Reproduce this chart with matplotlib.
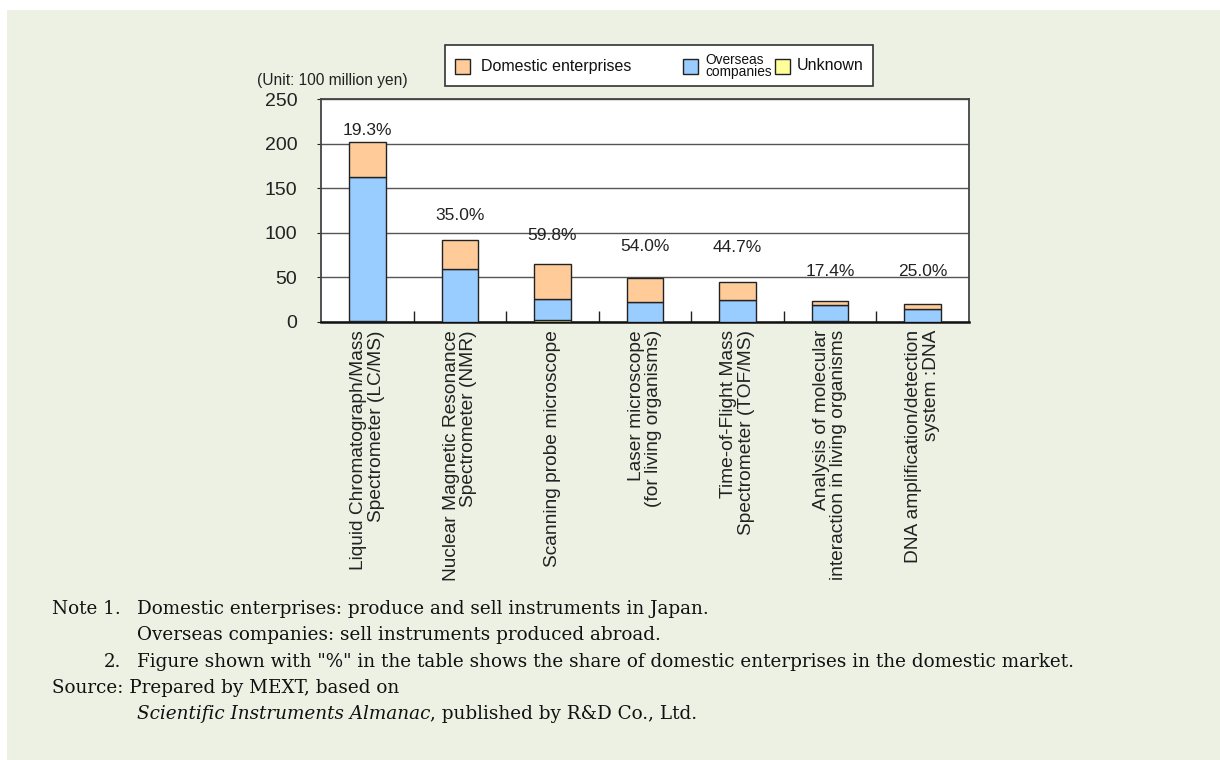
import numpy as np
import matplotlib
matplotlib.use("Agg")
from matplotlib import pyplot as plt
from matplotlib.patches import Rectangle

categories = [
    "Liquid Chromatograph/Mass\nSpectrometer (LC/MS)",
    "Nuclear Magnetic Resonance\nSpectrometer (NMR)",
    "Scanning probe microscope",
    "Laser microscope\n(for living organisms)",
    "Time-of-Flight Mass\nSpectrometer (TOF/MS)",
    "Analysis of molecular\ninteraction in living organisms",
    "DNA amplification/detection\nsystem :DNA",
]
# unit: 100 million yen
unknown = [1.0, 0.0, 2.5, 0.0, 0.0, 1.0, 0.0]
overseas = [162.0, 59.5, 23.8, 22.7, 24.9, 18.0, 15.0]
domestic = [39.0, 32.0, 39.2, 26.7, 20.1, 4.0, 5.0]
share_labels = ["19.3%", "35.0%", "59.8%", "54.0%", "44.7%", "17.4%", "25.0%"]
label_y = [215, 119, 97, 85, 83, 57, 57]
legend_names = ["Domestic enterprises", "Overseas\ncompanies", "Unknown"]

bg = "#ecf1e4"
c_dom = "#ffcc99"
c_ovs = "#99ccff"
c_unk = "#ffff99"

W, H = 1220, 760
fig = plt.figure(figsize=(12.2, 7.6), dpi=100)
fig.patch.set_facecolor("white")
fig.patches.append(Rectangle((7 / W, 0), 1, 1 - 10 / H, transform=fig.transFigure,
                             facecolor=bg, edgecolor="none", zorder=-10))

ax = fig.add_axes([321 / W, 1 - 322 / H, (969 - 321) / W, (322 - 99) / H])
ax.set_facecolor("white")

x = np.arange(len(categories))
unknown = np.array(unknown)
overseas = np.array(overseas)
domestic = np.array(domestic)
w = 0.395
ax.bar(x, unknown, w, color=c_unk, edgecolor="#222222", linewidth=1.0, zorder=3)
ax.bar(x, overseas, w, bottom=unknown, color=c_ovs, edgecolor="#222222", linewidth=1.0, zorder=3)
ax.bar(x, domestic, w, bottom=unknown + overseas, color=c_dom, edgecolor="#222222",
       linewidth=1.0, zorder=3)

for xi, s, yl in zip(x, share_labels, label_y):
    ax.text(xi, yl, s, ha="center", va="center", fontsize=12.5,
            family="Liberation Sans", color="#222222")

ax.set_xlim(-0.5, len(categories) - 0.5)
ax.set_ylim(0, 250)
ax.set_yticks([0, 50, 100, 150, 200, 250])
ax.yaxis.grid(True, color="#555555", linewidth=1.0, zorder=0)
ax.set_axisbelow(True)
for lab in ax.get_yticklabels():
    lab.set_family("Liberation Sans")
ax.tick_params(axis="y", labelsize=14, length=3, pad=14, colors="#222222")

# category boundary ticks pointing up from the base line
ax.set_xticks(np.arange(0.5, len(categories) - 1, 1.0))
ax.set_xticklabels([])
ax.tick_params(axis="x", direction="in", length=8, width=1.0, color="#222222")

for xi, cat in zip(x, categories):
    ax.text(xi, -9, cat, rotation=90, ha="center", va="top", fontsize=13.8,
            family="Liberation Sans", multialignment="right", linespacing=1.05,
            color="#222222")

for side in ["top", "right", "left"]:
    ax.spines[side].set_color("#444444")
    ax.spines[side].set_linewidth(1.3)
ax.spines["bottom"].set_color("#111111")
ax.spines["bottom"].set_linewidth(1.8)

fig.text(257 / W, 1 - 80 / H, "(Unit: 100 million yen)", fontsize=11.2,
         family="Liberation Sans", va="center", color="#222222")

# legend box drawn by hand to follow the reference spacing
fig.patches.append(Rectangle((445 / W, 1 - 86 / H), (873 - 445) / W, 41 / H,
                             transform=fig.transFigure, facecolor="white",
                             edgecolor="#333333", linewidth=1.2, zorder=5))
sq_x = [455, 683, 775]
tx_x = [481, 705, 797]
leg_size = [11.5, 9.9, 11.5]
for sx, tx, c, name, fs in zip(sq_x, tx_x, (c_dom, c_ovs, c_unk), legend_names, leg_size):
    fig.patches.append(Rectangle((sx / W, 1 - 73.5 / H), 15 / W, 15 / H,
                                 transform=fig.transFigure, facecolor=c,
                                 edgecolor="#222222", linewidth=1.0, zorder=6))
    fig.text(tx / W, 1 - 66 / H, name, fontsize=fs, family="Liberation Sans",
             va="center", ha="left", linespacing=0.9, color="#111111", zorder=7)

# notes
nf = {"family": "DejaVu Serif", "fontsize": 13.2, "color": "#111111", "va": "center"}
fig.text(52 / W, 1 - 609 / H, "Note 1.", **nf)
fig.text(137 / W, 1 - 609 / H, "Domestic enterprises: produce and sell instruments in Japan.", **nf)
fig.text(137 / W, 1 - 635 / H, "Overseas companies: sell instruments produced abroad.", **nf)
fig.text(104 / W, 1 - 662 / H, "2.", **nf)
fig.text(137 / W, 1 - 662 / H,
         "Figure shown with \"%\" in the table shows the share of domestic enterprises in the domestic market.", **nf)
fig.text(52 / W, 1 - 688 / H, "Source: Prepared by MEXT, based on", **nf)
t1 = fig.text(137 / W, 1 - 714 / H, "Scientific Instruments Almanac", style="italic", **nf)
fig.canvas.draw()
bb = t1.get_window_extent()
fig.text(bb.x1 / W, 1 - 714 / H, ", published by R&D Co., Ltd.", **nf)

fig.savefig("out.png", dpi=100, facecolor=fig.get_facecolor())
